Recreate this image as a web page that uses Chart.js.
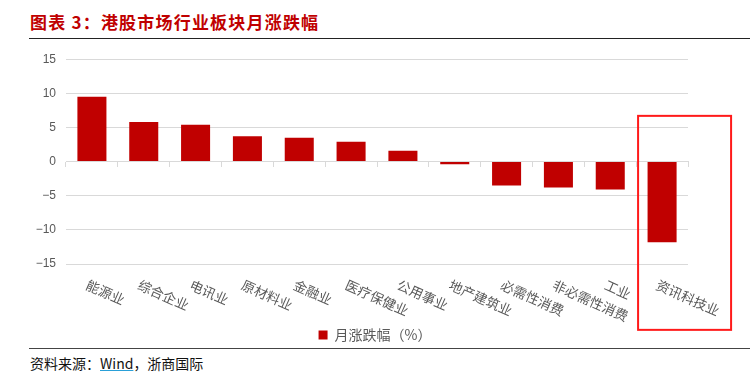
<!DOCTYPE html>
<html>
<head>
<meta charset="utf-8">
<script src="https://cdn.jsdelivr.net/npm/chart.js@4.4.1/dist/chart.umd.min.js"></script>
<style>
    body { margin: 0; width: 750px; height: 384px; background: #fff; position: relative; overflow: hidden; font-family: "Noto Sans CJK SC", sans-serif; }
    #title { position: absolute; left: 30px; top: 9px; font-size: 17px; font-weight: bold; color: #c00000; letter-spacing: 1.2px; }
    #topline { position: absolute; left: 29px; right: 0; top: 38px; border-top: 1.5px solid #222; }
    #chartbox { position: absolute; left: 0; top: 42px; width: 750px; height: 310px; }
    #bottomline { position: absolute; left: 29px; right: 0; top: 348px; border-top: 1.5px solid #444; }
    #source { position: absolute; left: 30px; top: 353px; font-size: 14px; color: #111; }
    #source u { color: #111; text-decoration-color: #2aa0d8; }
</style>
</head>
<body>
<div id="title">图表 3：港股市场行业板块月涨跌幅</div>
<div id="topline"></div>
<div id="chartbox"><canvas id="sectorChart"></canvas></div>
<div id="bottomline"></div>
<div id="source">资料来源：<u>Wind</u>，浙商国际</div>
<script>
document.addEventListener('DOMContentLoaded', () => {

    const sectors = ['能源业', '综合企业', '电讯业', '原材料业', '金融业', '医疗保健业', '公用事业',
        '地产建筑业', '必需性消费', '非必需性消费', '工业', '资讯科技业'];
    const monthChange = [9.5, 5.8, 5.4, 3.7, 3.5, 2.9, 1.6, -0.4, -3.5, -3.8, -4.1, -11.8];
    const yTicks = [-15, -10, -5, 0, 5, 10, 15];

    // rotated category labels, drawn below the plot
    const slantLabels = {
        id: 'slantLabels',
        afterDraw(chart) {
            const ctx = chart.ctx;
            const x = chart.scales.x;
            const bottom = chart.chartArea.bottom;
            ctx.save();
            ctx.font = '13.5px "Noto Sans CJK SC"';
            ctx.fillStyle = '#595959';
            ctx.textAlign = 'left';
            ctx.textBaseline = 'middle';
            sectors.forEach((name, i) => {
                ctx.save();
                ctx.translate(x.getPixelForValue(i) - 5, bottom + 20);
                ctx.rotate(24 * Math.PI / 180);
                ctx.fillText(name, 0, 0);
                ctx.restore();
            });
            // highlight box round the last sector
            const last = x.getPixelForValue(sectors.length - 1);
            ctx.strokeStyle = '#ff1a1a';
            ctx.lineWidth = 2;
            ctx.strokeRect(last - 24, chart.scales.y.getPixelForValue(6.7), 93, 214);
            ctx.restore();
        }
    };

    const ctx = document.getElementById('sectorChart').getContext('2d');
    new Chart(ctx, {
        type: 'bar',
        data: {
            labels: sectors,
            datasets: [{
                label: '月涨跌幅（%）',
                data: monthChange,
                backgroundColor: '#c00000',
                borderWidth: 0,
                barPercentage: 0.56,
                categoryPercentage: 1
            }]
        },
        options: {
            responsive: true,
            maintainAspectRatio: false,
            animation: false,
            layout: { padding: { top: 8, right: 0, left: 0, bottom: 0 } },
            scales: {
                x: {
                    position: { y: 0 },
                    grid: { display: true, drawOnChartArea: false, offset: true, color: '#d9d9d9', tickLength: 5 },
                    border: { color: '#d9d9d9' },
                    ticks: { display: false }
                },
                xSpace: {
                    type: 'category',
                    position: 'bottom',
                    grid: { display: false },
                    border: { display: false },
                    ticks: { display: false },
                    afterFit: s => { s.height = 58; }
                },
                y: {
                    min: -15,
                    max: 15,
                    afterBuildTicks: s => { s.ticks = yTicks.map(v => ({ value: v })); },
                    afterFit: s => { s.width = 66; },
                    grid: { color: '#d9d9d9', drawTicks: false },
                    border: { display: false },
                    ticks: {
                        color: '#595959',
                        padding: 10,
                        font: { family: '"Liberation Sans", Arial', size: 12 },
                        callback: v => (v < 0 ? '\u2212' + Math.abs(v) : v)
                    }
                },
                // empty right axis, only to leave room for the highlight box
                ySpace: {
                    type: 'linear',
                    position: 'right',
                    grid: { display: false },
                    border: { display: false },
                    ticks: { display: false },
                    afterFit: s => { s.width = 62; }
                }
            },
            plugins: {
                legend: {
                    position: 'bottom',
                    labels: {
                        boxWidth: 9,
                        boxHeight: 9,
                        color: '#595959',
                        font: { family: '"Noto Sans CJK SC"', size: 14 },
                        padding: 6
                    }
                },
                tooltip: { enabled: false }
            }
        },
        plugins: [slantLabels]
    });
});
</script>
</body>
</html>
